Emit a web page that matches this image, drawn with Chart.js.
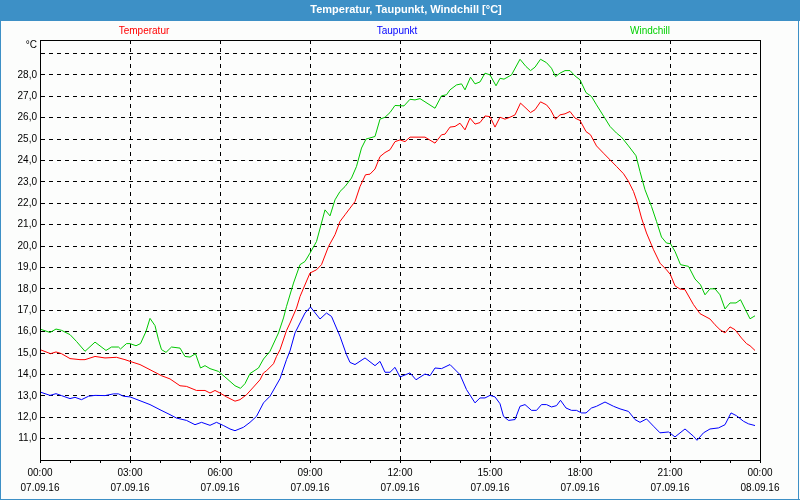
<!DOCTYPE html>
<html>
<head>
<meta charset="utf-8">
<script src="https://cdn.jsdelivr.net/npm/chart.js@4.4.1/dist/chart.umd.min.js"></script>
<style>
html,body{margin:0;padding:0;background:#fcfdfc;}
#wrap{width:800px;height:500px;}
canvas{display:block;}
</style>
</head>
<body>
<div id="wrap"><canvas id="c" width="800" height="500"></canvas></div>
<script>
// ---- data (times in minutes since 07.09.16 00:00) ----
const seriesNames = ['Temperatur', 'Taupunkt', 'Windchill'];

const tempTimes = [0,21,32,43,60,80,90,110,130,153,170,180,200,220,243,260,280,293,313,330,340,350,360,373,390,400,413,427,440,447,453,467,473,480,493,500,513,520,540,553,563,577,590,600,610,620,630,640,651,660,670,680,690,700,710,720,730,740,770,790,803,810,820,830,840,850,860,870,880,890,900,910,920,930,940,950,961,972,981,990,1001,1013,1021,1031,1040,1050,1060,1070,1080,1092,1101,1113,1127,1140,1153,1167,1177,1187,1195,1203,1213,1227,1240,1253,1261,1270,1280,1290,1307,1320,1340,1350,1360,1370,1380,1390,1403,1413,1420,1430];
const tempValues = [15.16,14.97,15.05,14.97,14.74,14.69,14.69,14.84,14.77,14.8,14.69,14.61,14.46,14.22,13.94,13.79,13.47,13.44,13.25,13.25,13.13,13.25,13.13,12.95,12.75,12.82,13.05,13.41,13.75,14.07,14.17,14.5,14.84,15.15,16.05,16.4,17.1,17.64,18.74,18.89,19.13,19.98,20.53,21.15,21.46,21.77,22.08,22.78,23.33,23.36,23.6,24.18,24.37,24.5,24.88,24.96,24.88,25.09,25.09,24.81,25.2,25.23,25.56,25.59,25.74,25.43,25.98,25.7,25.77,26.08,26.05,25.56,26.02,25.93,26.02,26.13,26.68,26.44,26.24,26.37,26.74,26.6,26.37,25.93,26.13,26.18,26.29,25.98,25.87,25.35,25.2,24.68,24.34,24.03,23.72,23.38,23.02,22.55,22.01,21.31,20.61,19.83,19.2,18.89,18.66,18.14,17.99,17.96,17.26,16.84,16.59,16.32,16.09,15.94,16.22,16.09,15.7,15.44,15.34,15.12];

const dewTimes = [0,20,32,43,60,70,83,97,110,130,147,157,167,180,200,220,240,260,273,293,310,323,340,353,367,380,390,407,420,433,447,460,480,493,500,510,530,541,560,573,583,600,613,620,630,650,670,680,690,700,710,720,740,752,770,780,790,803,820,840,853,870,880,890,900,910,920,927,937,950,960,970,983,993,1003,1013,1023,1033,1041,1052,1063,1073,1083,1092,1103,1113,1130,1147,1160,1177,1190,1200,1213,1227,1240,1257,1270,1290,1307,1314,1327,1340,1357,1370,1382,1393,1407,1417,1430];
const dewValues = [13.18,13.02,13.1,13.01,12.87,12.93,12.82,12.98,13.02,13.01,13.09,13.09,12.98,12.95,12.77,12.59,12.35,12.12,11.96,11.85,11.65,11.76,11.62,11.76,11.61,11.45,11.37,11.53,11.76,12.04,12.67,12.98,13.8,14.69,15.1,15.94,16.87,17.15,16.59,16.87,16.71,15.78,14.92,14.56,14.46,14.77,14.41,14.61,14.1,14.1,14.33,13.88,14.07,13.75,14.02,13.94,14.3,14.27,14.46,13.99,13.29,12.67,12.9,12.9,13.02,12.95,12.63,12.04,11.85,11.89,12.51,12.59,12.32,12.32,12.59,12.59,12.48,12.54,12.79,12.43,12.32,12.32,12.2,12.2,12.43,12.51,12.71,12.51,12.39,12.27,11.89,11.76,11.92,11.58,11.27,11.31,11.08,11.45,11.11,10.92,11.27,11.45,11.5,11.65,12.2,12.07,11.81,11.69,11.61];

const chillTimes = [0,20,32,43,60,73,90,110,132,143,157,161,173,180,192,201,212,220,230,237,243,252,263,280,290,300,311,321,330,340,357,370,390,401,410,420,437,447,460,477,487,493,507,520,530,540,553,570,580,590,600,610,623,633,643,652,670,680,690,700,710,728,740,750,760,790,803,813,820,833,843,850,861,870,880,890,900,912,920,928,943,960,972,981,990,1001,1013,1023,1031,1040,1050,1060,1070,1080,1092,1103,1113,1127,1140,1153,1163,1177,1192,1200,1210,1223,1233,1243,1253,1261,1270,1281,1297,1310,1321,1330,1340,1350,1360,1370,1380,1392,1401,1411,1420,1430];
const chillValues = [16.12,15.96,16.12,16.06,15.86,15.54,15.08,15.51,15.12,15.28,15.28,15.19,15.44,15.44,15.34,15.44,16.01,16.62,16.28,15.62,15.16,15.03,15.28,15.23,14.84,14.81,14.97,14.3,14.41,14.27,14.14,13.88,13.47,13.35,13.57,14.04,14.3,14.72,15.08,15.94,16.64,17.18,18.27,19.13,19.28,19.67,20.21,21.69,21.41,22.16,22.55,22.78,23.18,23.72,24.58,25.0,25.12,25.93,26.02,26.24,26.57,26.55,26.86,26.83,26.89,26.44,27.02,27.07,27.3,27.53,27.58,27.3,27.89,27.58,27.67,28.08,28.0,27.49,27.84,27.8,28.0,28.73,28.39,28.2,28.36,28.73,28.57,28.31,27.92,28.08,28.2,28.2,27.95,27.77,27.17,26.99,26.6,26.08,25.59,25.28,25.09,24.68,24.22,23.48,22.63,21.85,21.15,20.42,20.14,20.11,19.75,19.13,19.05,18.46,18.19,17.72,18.0,18.0,17.72,17.06,17.34,17.34,17.49,17.02,16.6,16.74];

// x tick labels (every 3 hours)
const xTickMinutes = [0,180,360,540,720,900,1080,1260,1440];
const xTickTimes = ['00:00','03:00','06:00','09:00','12:00','15:00','18:00','21:00','00:00'];
const xTickDates = ['07.09.16','07.09.16','07.09.16','07.09.16','07.09.16','07.09.16','07.09.16','07.09.16','08.09.16'];
// y tick labels shown
const yLabelMin = 11, yLabelMax = 28;

const chartTitle = 'Temperatur, Taupunkt, Windchill [°C]';
const unitLabel = '°C';

// ---- styles ----
const FONT = "'Liberation Sans', Arial, sans-serif";
const colors = ['#ff0000', '#0000ff', '#00c800'];
const legendColors = ['#ff0000', '#0000ff', '#00d000'];
const bg = '#fcfdfc';
const frameBlue = '#3d90c6';

function toXY(t, v) { return t.map((x, i) => ({ x: x, y: v[i] })); }

const decorPlugin = {
  id: 'decor',
  beforeDraw(chart) {
    const ctx = chart.ctx;
    ctx.save();
    ctx.fillStyle = bg;
    ctx.fillRect(0, 0, chart.width, chart.height);
    ctx.fillStyle = frameBlue;
    ctx.fillRect(0, 0, chart.width, 21);
    ctx.fillRect(0, 0, 1, chart.height);
    ctx.fillRect(0, chart.height - 1, chart.width, 1);
    ctx.fillRect(chart.width - 2, 0, 1, chart.height);
    ctx.restore();
  },
  afterDraw(chart) {
    const ctx = chart.ctx;
    const a = chart.chartArea;
    ctx.save();
    ctx.strokeStyle = '#000';
    ctx.lineWidth = 1;
    ctx.setLineDash([]);
    ctx.strokeRect(Math.round(a.left) + 0.5, Math.round(a.top) + 0.5,
                   Math.round(a.right - a.left), Math.round(a.bottom - a.top));
    // legend
    ctx.font = '10px ' + FONT;
    ctx.textBaseline = 'middle';
    ctx.textAlign = 'center';
    const centers = [144, 397, 650];
    seriesNames.forEach((n, i) => {
      ctx.fillStyle = legendColors[i];
      ctx.fillText(n, centers[i], 31);
    });
    // unit label
    ctx.fillStyle = '#000';
    ctx.textAlign = 'right';
    ctx.fillText(unitLabel, a.left - 3, a.top + 5);
    ctx.restore();
  }
};

new Chart(document.getElementById('c'), {
  type: 'line',
  data: {
    datasets: [
      { label: seriesNames[0], data: toXY(tempTimes, tempValues), borderColor: colors[0] },
      { label: seriesNames[1], data: toXY(dewTimes, dewValues), borderColor: colors[1] },
      { label: seriesNames[2], data: toXY(chillTimes, chillValues), borderColor: colors[2] }
    ].map(d => Object.assign(d, { borderWidth: 1, pointRadius: 0, tension: 0, fill: false }))
  },
  options: {
    responsive: false,
    animation: false,
    devicePixelRatio: 1,
    layout: { padding: { left: 12, right: 0, top: 0, bottom: 0 } },
    plugins: {
      legend: { display: false },
      tooltip: { enabled: false },
      title: {
        display: true,
        text: chartTitle,
        color: '#ffffff',
        font: { family: FONT, size: 11, weight: 'bold', lineHeight: 1.2 },
        padding: { top: 3.5, bottom: 23.3 }
      }
    },
    scales: {
      x: {
        type: 'linear',
        min: 0,
        max: 1440,
        afterFit(s) { s.height = 40; },
        ticks: {
          stepSize: 60,
          autoSkip: false,
          maxRotation: 0,
          minRotation: 0,
          padding: 3,
          color: '#000',
          font: { family: FONT, size: 10, lineHeight: 1.5 },
          callback(v) {
            const i = xTickMinutes.indexOf(v);
            return i >= 0 ? [xTickTimes[i], xTickDates[i]] : '';
          }
        },
        grid: {
          color: c => (c.tick && c.tick.value % 180 === 0) ? '#000' : 'transparent',
          lineWidth: 1,
          drawTicks: true,
          tickLength: 3,
          tickColor: '#000',
          tickBorderDash: []
        },
        border: { display: true, color: '#000', width: 1, dash: [4, 4] }
      },
      y: {
        min: 10,
        max: 29.63,
        afterFit(s) { s.width = 28; },
        ticks: {
          stepSize: 1,
          includeBounds: false,
          padding: 3,
          color: '#000',
          font: { family: FONT, size: 10 },
          callback(v) {
            return (v >= yLabelMin && v <= yLabelMax) ? v.toFixed(1).replace('.', ',') : '';
          }
        },
        grid: { color: '#000', lineWidth: 1, drawTicks: false },
        border: { display: true, color: '#000', width: 1, dash: [4, 4] }
      },
      yRight: {
        position: 'right',
        display: true,
        min: 10,
        max: 29.63,
        afterFit(s) { s.width = 40; },
        ticks: { display: false },
        grid: { display: false, drawTicks: false },
        border: { display: false }
      }
    }
  },
  plugins: [decorPlugin]
});
</script>
</body>
</html>
